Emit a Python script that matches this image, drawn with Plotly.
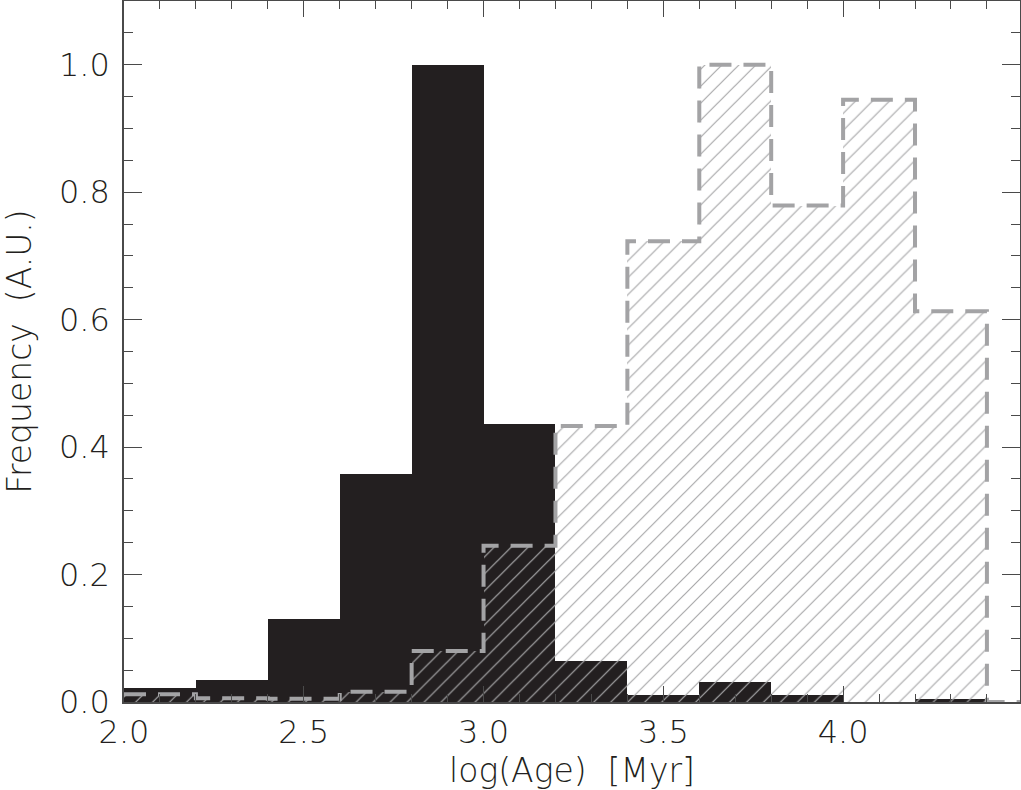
import plotly.graph_objects as go

# Bin edges (log Age [Myr]) and normalized frequencies
bin_left = [2.0, 2.2, 2.4, 2.6, 2.8, 3.0, 3.2, 3.4, 3.6, 3.8, 4.0, 4.2]
bin_width = 0.2
black_vals = [0.022, 0.034, 0.130, 0.357, 1.0, 0.436, 0.065, 0.011, 0.031, 0.011, 0.0, 0.005]
gray_vals = [0.012, 0.006, 0.005, 0.016, 0.080, 0.245, 0.433, 0.723, 1.0, 0.779, 0.945, 0.613]

x_ticks = [2.0, 2.5, 3.0, 3.5, 4.0]
y_ticks = [0.0, 0.2, 0.4, 0.6, 0.8, 1.0]

centers = [b + bin_width / 2 for b in bin_left]
edges = bin_left + [bin_left[-1] + bin_width]
x_max = 4.492

FONT = "DejaVu Sans"
AX = "#4a4a4a"
GRAY = "#a3a3a5"
TXT = "#231f20"

fig = go.Figure()

fig.add_trace(go.Bar(
    x=centers, y=black_vals, width=bin_width,
    marker=dict(color="#231f20", line=dict(width=0)),
    showlegend=False,
))

fig.add_trace(go.Bar(
    x=centers, y=gray_vals, width=bin_width,
    marker=dict(
        color=GRAY, line=dict(width=0),
        pattern=dict(shape="/", size=12, solidity=0.1, fgcolor="#a8a8aa", fillmode="replace"),
    ),
    showlegend=False,
))

# dashed step outline of gray histogram
step_x = edges + [x_max]
step_y = gray_vals + [0.0, 0.0]
fig.add_trace(go.Scatter(
    x=step_x, y=step_y, mode="lines", line_shape="hv",
    line=dict(color=GRAY, width=4, dash="22px,12px"),
    showlegend=False, cliponaxis=False,
))

fig.update_layout(
    width=1021, height=790,
    margin=dict(l=124, r=1, t=1, b=88, autoexpand=False),
    paper_bgcolor="white", plot_bgcolor="white",
    barmode="overlay", bargap=0,
    font=dict(family=FONT, size=32, color=TXT, weight=200),
    xaxis=dict(
        range=[2.0, x_max], tickvals=x_ticks, tickformat=".1f", automargin=False,
        ticks="inside", ticklen=16, tickwidth=1.3, tickcolor=AX,
        minor=dict(dtick=0.1, tick0=2.0, ticks="inside", ticklen=8, tickcolor=AX, tickwidth=1.3),
        showline=True, linecolor=AX, linewidth=1.5, mirror="allticks",
        showgrid=False, zeroline=False,
        title=dict(text="log(Age)  [Myr]", standoff=4, font=dict(size=33, weight=200)),
        tickfont=dict(size=32, weight=200),
        ticklabelstandoff=1,
    ),
    yaxis=dict(
        range=[0, 1.1], tickvals=y_ticks, tickformat=".1f", automargin=False,
        ticks="inside", ticklen=18, tickwidth=1.3, tickcolor=AX,
        minor=dict(dtick=0.05, tick0=0, ticks="inside", ticklen=9, tickcolor=AX, tickwidth=1.3),
        showline=True, linecolor=AX, linewidth=1.5, mirror="allticks",
        showgrid=False, zeroline=False,
        title=dict(text="Frequency  (A.U.)", standoff=26, font=dict(size=33, weight=200)),
        tickfont=dict(size=32, weight=200),
        ticklabelstandoff=6,
    ),
)

fig.write_html(
    "out.html",
    config={"displayModeBar": False},
    post_script="document.body.style.margin='0';document.body.style.overflow='hidden';",
)
